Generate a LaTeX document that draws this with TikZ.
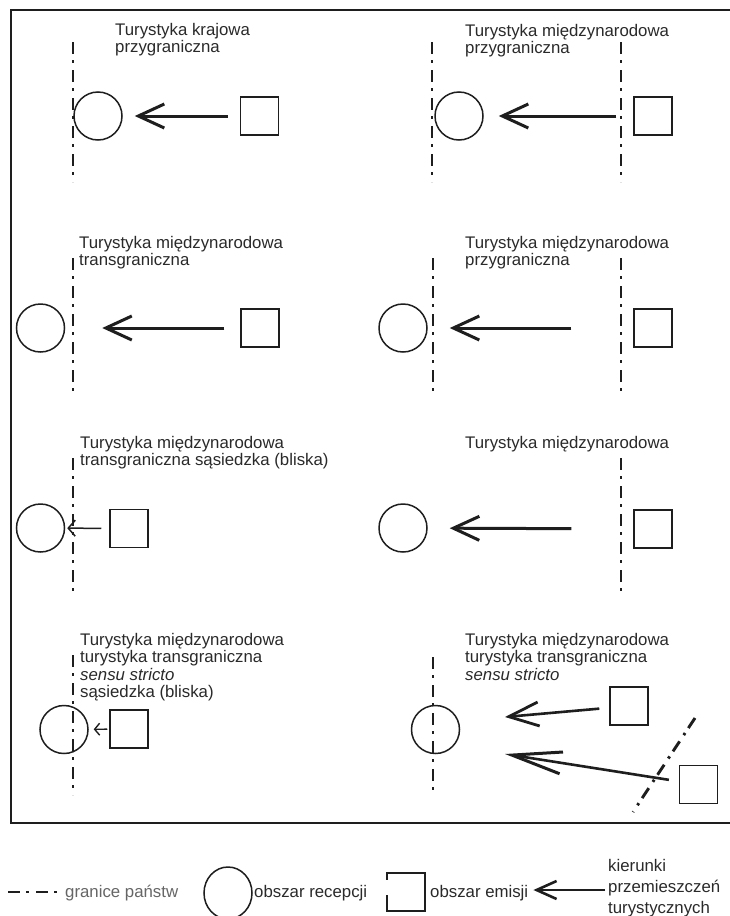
\documentclass[tikz,border=0pt]{standalone}
\usepackage{fontspec}
\setmainfont{Liberation Sans}
\usetikzlibrary{arrows.meta,shapes.geometric}
\definecolor{linec}{HTML}{1E1E1E}
\definecolor{txtc}{HTML}{2A2A2A}
\definecolor{legc}{HTML}{666666}
\begin{document}
\begin{tikzpicture}[x=1pt,y=-1pt,
  txt/.style={anchor=base west, inner sep=0pt, align=left, text=txtc,
    font=\fontsize{16.8}{17.5}\selectfont},
  legtxt/.style={anchor=base west, inner sep=0pt, align=left, text=txtc,
    font=\fontsize{16.8}{21}\selectfont},
  recv/.style={circle, draw=linec, line width=1.5pt, minimum size=48pt, inner sep=0pt},
  emit/.style={rectangle, draw=linec, line width=1.5pt, minimum size=38pt, inner sep=0pt},
  border/.style={draw=linec, line width=2.9pt, dash pattern=on 12pt off 6pt on 2.5pt off 7.5pt},
  bigarrow/.style={draw=linec, line width=3pt, -{Straight Barb[length=26pt,width=24pt,line width=3pt]}},
  thinarrow/.style={draw=linec, line width=1.5pt, -{Straight Barb[length=7pt,width=16pt]}},
  tinyarrow/.style={draw=linec, line width=1.4pt, -{Straight Barb[length=5pt,width=12pt]}}
]
\useasboundingbox (0,0) rectangle (730,916);
\fill[white] (0,0) rectangle (730,916);

% frame (open to the right)
\draw[linec, line width=2pt] (730,10) -- (11,10) -- (11,823) -- (730,823);

% ---------- panel 1 ----------
\node[txt] (t1) at (115,52.5) {Turystyka krajowa\\przygraniczna};
\draw[border] (73,42) -- (73,182);
\node[recv] (c1) at (98,116) {};
\node[emit] (s1) at (259.5,116) {};
\draw[bigarrow, shorten <=12pt, shorten >=12pt] (s1) -- (c1);

% ---------- panel 2 ----------
\node[txt] (t2) at (465,53.5) {Turystyka międzynarodowa\\przygraniczna};
\draw[border] (432,42) -- (432,182);
\draw[border] (621,42) -- (621,182);
\node[recv] (c2) at (459,116) {};
\node[emit] (s2) at (653,116) {};
\draw[bigarrow, shorten <=17pt, shorten >=15pt] (s2) -- (c2);

% ---------- panel 3 ----------
\node[txt] (t3) at (79,265.5) {Turystyka międzynarodowa\\transgraniczna};
\draw[border] (73,258) -- (73,394);
\node[recv] (c3) at (40.5,328) {};
\node[emit] (s3) at (260,328) {};
\draw[bigarrow, shorten <=16pt, shorten >=37pt] (s3) -- (c3);

% ---------- panel 4 ----------
\node[txt] (t4) at (465,265.5) {Turystyka międzynarodowa\\przygraniczna};
\draw[border] (433,258) -- (433,394);
\draw[border] (621,258) -- (621,394);
\node[recv] (c4) at (403,328) {};
\node[emit] (s4) at (653,328) {};
\draw[bigarrow, shorten <=62pt, shorten >=22pt] (s4) -- (c4);

% ---------- panel 5 ----------
\node[txt] (t5) at (80,465.5) {Turystyka międzynarodowa\\transgraniczna sąsiedzka (bliska)};
\draw[border] (73,458) -- (73,594);
\node[recv] (c5) at (40.5,528) {};
\node[emit] (s5) at (129,528.5) {};
\draw[thinarrow, shorten <=8pt, shorten >=2pt] (s5) -- (c5);

% ---------- panel 6 ----------
\node[txt] (t6) at (465,448) {Turystyka międzynarodowa};
\draw[border] (621,458) -- (621,594);
\node[recv] (c6) at (403,528) {};
\node[emit] (s6) at (653,529) {};
\draw[bigarrow, shorten <=62pt, shorten >=22pt] (s6) -- (c6);

% ---------- panel 7 ----------
\node[txt] (t7) at (80,697.5) {Turystyka międzynarodowa\\turystyka transgraniczna\\\textit{sensu stricto}\\sąsiedzka (bliska)};
\draw[border] (73,655) -- (73,795);
\node[recv] (c7) at (64,729.5) {};
\node[emit] (s7) at (129,729) {};
\draw[tinyarrow, shorten <=2pt, shorten >=5pt] (s7) -- (c7);

% ---------- panel 8 ----------
\node[txt] (t8) at (465,680) {Turystyka międzynarodowa\\turystyka transgraniczna\\\textit{sensu stricto}};
\draw[border] (433,657) -- (433,795);
\draw[border] (695,718) -- (633,812);
\node[recv] (c8) at (435.5,729.5) {};
\node[emit] (s8a) at (629,706) {};
\node[emit] (s8b) at (698.5,784.5) {};
\coordinate (tip1) at (505,717);
\coordinate (tip2) at (505,754);
\draw[draw=linec, line width=2.6pt, -{Straight Barb[length=30pt,width=24pt,line width=2.8pt]}, shorten <=10pt] (s8a) -- (tip1);
\draw[draw=linec, line width=2.6pt, -{Straight Barb[length=50pt,width=22pt,line width=3pt]}, shorten <=10pt] (s8b) -- (tip2);

% ---------- legend ----------
\draw[border, line width=2.6pt] (8,892) -- (63,892);
\node[legtxt, text=legc] (lg1) at (65,897) {granice państw};
\node[ellipse, draw=linec, line width=1.5pt, minimum width=48pt, minimum height=52pt, inner sep=0pt] (lgc) at (228,893) {};
\node[legtxt] (lg2) at (254,897) {obszar recepcji};
\node[rectangle, minimum size=38pt, inner sep=0pt] (lgs) at (406,892) {};
\draw[linec, line width=1.5pt] ([yshift=-7pt]lgs.north west) -- (lgs.north west) -- (lgs.north east) -- (lgs.south east) -- (lgs.south west) -- ([yshift=16pt]lgs.south west);
\node[legtxt] (lg3) at (430,897) {obszar emisji};
\node[legtxt] (lg4) at (608,913) {kierunki\\przemieszczeń\\turystycznych};
\draw[draw=linec, line width=2.6pt, -{Straight Barb[length=20pt,width=18pt,line width=2.6pt]}, shorten <=3pt, shorten >=5pt] (lg4.west |- 0,890) -- (lg3.east |- 0,890);
\end{tikzpicture}
\end{document}
